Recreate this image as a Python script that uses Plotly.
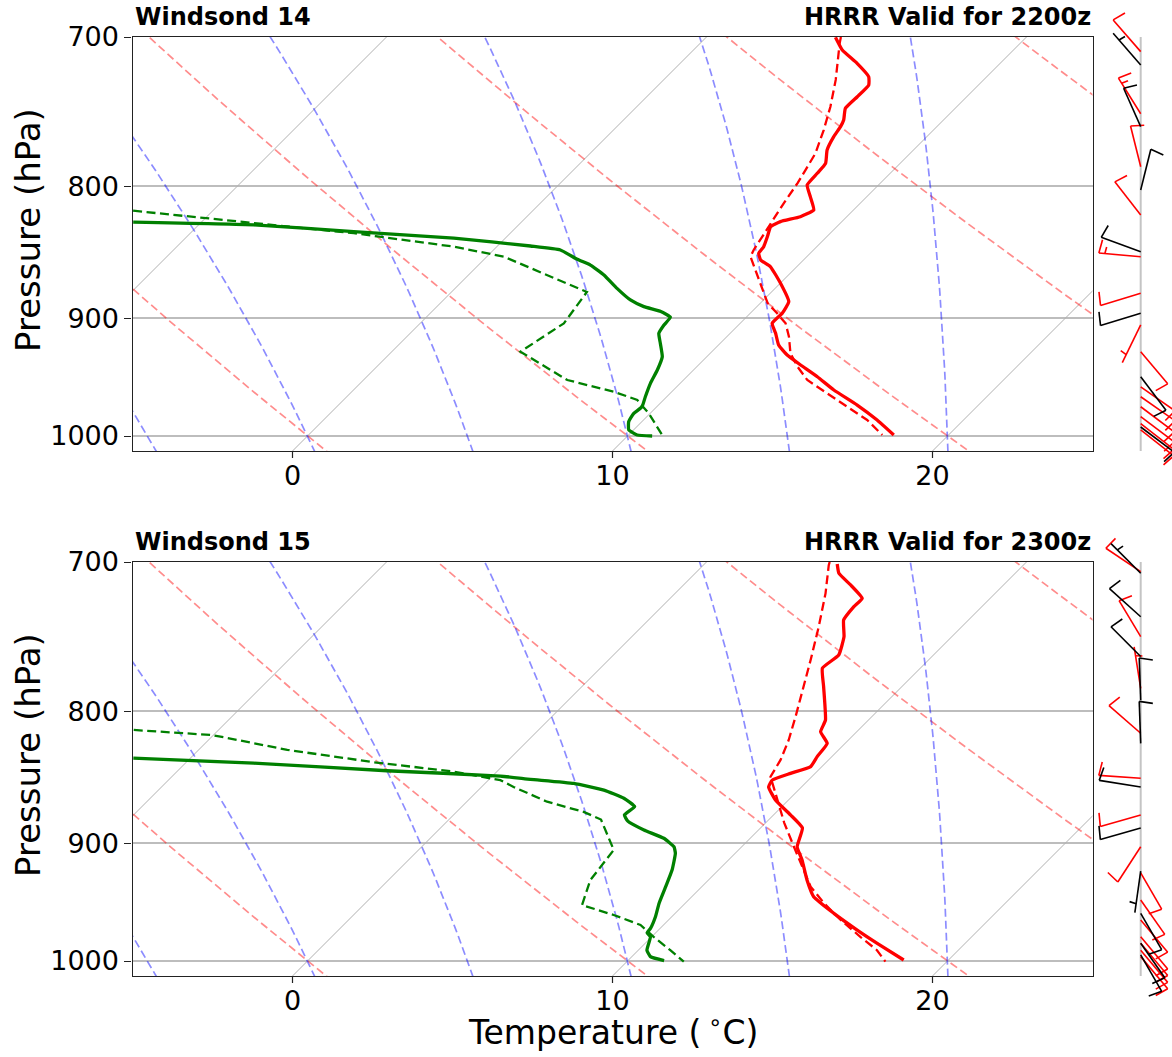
import numpy as np
import plotly.graph_objects as go

# ---------------- DATA ----------------
# Panel 1: Windsond 14 / HRRR valid 2200z
ws14_t_p = [700.2, 708.2, 716.7, 725.3, 730.7, 738.4, 746.1, 753.9, 758.4, 765.2, 774.4, 783.7, 790.7,
            799.0, 807.5, 817.1, 822.0, 825.6, 829.3, 836.7, 844.3, 849.3, 854.4, 859.6, 872.4, 886.8,
            896.1, 904.2, 912.3, 921.9, 930.2, 938.5, 948.4, 959.7, 972.7, 985.8, 999.1]
ws14_t = [4.04, 4.65, 5.53, 6.31, 6.57, 6.58, 6.57, 6.88, 6.99, 7.09, 7.30, 7.67, 7.72,
          7.77, 8.24, 8.76, 8.55, 8.08, 7.93, 8.14, 8.34, 8.39, 8.66, 9.18, 10.01, 10.84,
          11.0, 11.0, 11.42, 11.88, 12.46, 13.19, 14.08, 15.01, 16.21, 17.30, 18.29]
ws14_td_p = [826.0, 828.0, 833.0, 837.9, 843.8, 846.8, 853.9, 858.3, 865.9, 876.4, 885.5, 890.8, 894.7,
             899.3, 905.5, 912.3, 920.5, 931.6, 942.7, 954.0, 965.5, 974.2, 980.0, 987.3, 994.6, 999.1, 1000.0]
ws14_td = [-12.13, -8.27, -4.94, -1.61, 1.03, 2.09, 2.91, 3.5, 4.23, 5.06, 5.84, 6.47, 7.15,
           7.63, 7.67, 7.77, 8.13, 8.61, 8.87, 9.07, 9.33, 9.54, 9.49, 9.59, 9.85, 10.27, 10.77]
hrrr22_t_p = [700.0, 704.0, 727.4, 745.0, 760.7, 776.7, 788.4, 797.5, 812.2, 826.8, 836.7, 846.8, 851.9,
              862.1, 877.6, 887.9, 896.1, 904.2, 915.0, 928.8, 939.8, 951.2, 962.6, 974.2, 985.8, 999.1]
hrrr22_t = [4.2, 4.36, 5.38, 6.05, 6.57, 7.04, 7.25, 7.41, 7.61, 7.82, 7.98, 8.13, 8.24,
            8.81, 9.65, 10.22, 10.84, 11.42, 11.94, 12.51, 13.14, 13.87, 14.91, 15.95, 16.99, 17.93]
hrrr22_td_p = [817.6, 826.8, 834.2, 844.3, 851.9, 879.2, 904.2, 927.4, 951.2, 961.2, 968.3, 980.0, 999.1]
hrrr22_td = [-12.49, -8.33, -4.89, -1.34, 0.53, 4.23, 4.49, 4.02, 6.37, 8.19, 9.18, 9.96, 11.05]

# Panel 2: Windsond 15 / HRRR valid 2300z
ws15_t_p = [701.3, 707.1, 714.5, 723.1, 728.5, 737.3, 748.3, 760.7, 769.7, 782.6, 806.3, 814.7, 823.2,
            833.0, 840.5, 845.6, 850.7, 855.9, 865.9, 877.6, 887.9, 902.9, 913.7, 930.2, 944.2, 958.3,
            972.7, 984.3, 999.1]
ws15_t = [4.15, 4.49, 5.22, 6.0, 6.0, 6.10, 6.63, 7.04, 6.94, 7.56, 8.66, 8.87, 9.44,
          9.54, 9.65, 9.23, 8.87, 8.97, 9.59, 10.53, 11.31, 11.73, 12.30, 13.08, 13.81, 14.96,
          16.21, 17.25, 18.60]
ws15_td_p = [834.2, 837.9, 843.6, 847.6, 850.1, 853.2, 858.3, 864.6, 871.1, 877.6, 882.5, 889.5, 896.1,
             902.9, 908.2, 921.9, 935.7, 949.6, 961.2, 971.3, 975.1, 978.6, 990.4, 996.1, 999.6]
ws15_td = [-11.78, -7.86, -3.46, 0.25, 1.29, 2.77, 3.92, 4.8, 5.40, 5.34, 5.64, 6.42, 7.30,
           7.88, 8.13, 8.55, 8.87, 9.18, 9.49, 9.70, 9.73, 9.96, 10.27, 10.58, 11.13]
hrrr23_t_p = [700.0, 702.0, 719.9, 741.7, 763.9, 787.2, 803.9, 820.7, 835.5, 848.1, 865.9, 883.8, 902.9,
              919.2, 935.7, 949.6, 964.0, 978.6, 990.4, 1000.6]
hrrr23_t = [3.85, 3.92, 4.70, 5.53, 6.31, 7.09, 7.62, 8.13, 8.5, 8.71, 9.65, 10.58, 11.63,
            12.51, 13.40, 14.33, 15.38, 16.52, 17.46, 18.08]
hrrr23_td_p = [813.4, 817.1, 828.0, 837.2, 844.3, 850.7, 855.9, 867.3, 875.2, 881.2, 905.5, 919.2, 930.2,
               951.2, 959.7, 968.3, 978.6, 990.4, 1000.6]
hrrr23_td = [-12.65, -10.04, -7.23, -4.14, -1.34, 0.375, 1.0, 2.51, 3.97, 4.75, 6.10, 6.21, 6.31,
             6.83, 8.13, 9.28, 10.06, 11.0, 11.78]

# Wind barbs (pressure hPa, direction deg from, speed kt)
ws14_barb_p = [709.2, 749.7, 786.1, 820.7, 851.9, 880.2, 905.5, 927.4, 957.0, 965.5, 974.2, 982.9, 989.0, 994.6]
ws14_barb_dir = [319, 328, 346, 322, 275, 253, 206, 140, 125, 125, 127, 127, 128, 128]
ws14_barb_spd = [10, 15, 10, 10, 15, 10, 5, 10, 10, 10, 10, 10, 10, 10]
hrrr22_barb_p = [717.7, 758.4, 802.6, 848.1, 896.1, 948.4, 992.0]
hrrr22_barb_dir = [319, 336, 14, 290, 253, 143, 127]
hrrr22_barb_spd = [5, 10, 10, 10, 10, 10, 10]

ws15_barb_p = [706.1, 748.3, 783.7, 815.8, 849.3, 877.6, 902.9, 924.2, 946.9, 964.0, 978.6, 984.3, 990.4, 996.1]
ws15_barb_dir = [304, 329, 351, 311, 274, 254, 213, 150, 145, 140, 140, 140, 140, 140]
ws15_barb_spd = [10, 10, 5, 10, 10, 10, 10, 10, 10, 10, 10, 10, 10, 10]
hrrr23_barb_p = [707.1, 735.1, 761.7, 791.9, 823.2, 855.9, 887.9, 922.8, 958.3, 984.3, 994.6]
hrrr23_barb_dir = [315, 312, 315, 358, 358, 279, 254, 188, 150, 145, 150]
hrrr23_barb_spd = [5, 10, 10, 10, 10, 10, 10, 5, 10, 10, 10]

titles_left = ["Windsond 14", "Windsond 15"]
titles_right = ["HRRR Valid for 2200z", "HRRR Valid for 2300z"]
x_ticks = [0, 10, 20]
y_ticks = [700, 800, 900, 1000]

# ---------------- LAYOUT GEOMETRY ----------------
W_FIG, H_FIG = 1172, 1057
P_TOP, P_BOT = 700.0, 1013.5
T_MIN, T_MAX = -5.0, 25.0
X0, X1 = 132.5, 1092.5
PANELS = [(37.0, 451.0), (562.0, 976.0)]
PH = PANELS[0][1] - PANELS[0][0]
PX_PER_DEG = (X1 - X0) / (T_MAX - T_MIN)
SKEW = PH / PX_PER_DEG                     # 45 degree skew in display space
LOGSPAN = np.log10(P_BOT) - np.log10(P_TOP)
PPD = PH / LOGSPAN                          # pixels per decade of pressure


def yfrac(p):
    p = np.asarray(p, dtype=float)
    return (np.log10(P_BOT) - np.log10(p)) / LOGSPAN


def skew_x(t, p):
    return np.asarray(t, dtype=float) + SKEW * yfrac(p)


def moist_adiabat(t0c, p_levels):
    Rd, Cp, Lv, eps = 287.04749, 1004.6662, 2.50084e6, 0.622

    def dTdp(p, T):
        tc = T - 273.15
        es = 6.112 * np.exp(17.67 * tc / (tc + 243.5))
        rs = eps * es / (p - es)
        return (Rd * T + Lv * rs) / (p * (Cp + Lv * Lv * rs * eps / (Rd * T * T)))

    out = []
    T = t0c + 273.15
    p = 1000.0
    for pn in p_levels:
        n = max(1, int(abs(pn - p) / 2.0))
        h = (pn - p) / n
        for _ in range(n):
            k1 = dTdp(p, T)
            k2 = dTdp(p + h / 2, T + h / 2 * k1)
            k3 = dTdp(p + h / 2, T + h / 2 * k2)
            k4 = dTdp(p + h, T + h * k3)
            T += h / 6 * (k1 + 2 * k2 + 2 * k3 + k4)
            p += h
        out.append(T - 273.15)
    return np.array(out)


fig = go.Figure()
FONT = "DejaVu Sans"

p_curve = np.geomspace(1025, 690, 60)
p_up = np.geomspace(1000, 690, 50)
p_dn = np.array([1000.0, 1010.0, 1025.0])

for i, (ytop, ybot) in enumerate(PANELS):
    xa = "x" if i == 0 else "x2"
    ya = "y" if i == 0 else "y2"
    # isotherms
    for t in range(-40, 40, 10):
        pp = np.array([1025.0, 690.0])
        fig.add_trace(go.Scatter(x=skew_x([t, t], pp), y=pp, mode="lines", xaxis=xa, yaxis=ya,
                                 line=dict(color="#b0b0b0", width=1), hoverinfo="skip", showlegend=False))
    # dry adiabats
    for th in range(-30, 90, 10):
        tt = (th + 273.15) * (p_curve / 1000.0) ** 0.2857 - 273.15
        fig.add_trace(go.Scatter(x=skew_x(tt, p_curve), y=p_curve, mode="lines", xaxis=xa, yaxis=ya,
                                 line=dict(color="rgba(255,0,0,0.45)", width=1.7, dash="8px,4px"),
                                 hoverinfo="skip", showlegend=False))
    # moist adiabats
    for t0 in range(-10, 40, 5):
        tu = moist_adiabat(t0, p_up)
        td = moist_adiabat(t0, p_dn)
        pp = np.concatenate([p_dn[::-1], p_up[1:]])
        tt = np.concatenate([td[::-1], tu[1:]])
        fig.add_trace(go.Scatter(x=skew_x(tt, pp), y=pp, mode="lines", xaxis=xa, yaxis=ya,
                                 line=dict(color="rgba(0,0,255,0.45)", width=1.7, dash="8px,4px"),
                                 hoverinfo="skip", showlegend=False))

profiles = [
    (ws14_t_p, ws14_t, hrrr22_t_p, hrrr22_t, ws14_td_p, ws14_td, hrrr22_td_p, hrrr22_td),
    (ws15_t_p, ws15_t, hrrr23_t_p, hrrr23_t, ws15_td_p, ws15_td, hrrr23_td_p, hrrr23_td),
]
for i, (tp, t, htp, ht, dp, d, hdp, hd) in enumerate(profiles):
    xa = "x" if i == 0 else "x2"
    ya = "y" if i == 0 else "y2"
    fig.add_trace(go.Scatter(x=skew_x(ht, htp), y=htp, mode="lines", xaxis=xa, yaxis=ya,
                             line=dict(color="red", width=2.3, dash="9px,4.5px"), showlegend=False))
    fig.add_trace(go.Scatter(x=skew_x(hd, hdp), y=hdp, mode="lines", xaxis=xa, yaxis=ya,
                             line=dict(color="green", width=2.3, dash="9px,4.5px"), showlegend=False))
    fig.add_trace(go.Scatter(x=skew_x(t, tp), y=tp, mode="lines", xaxis=xa, yaxis=ya,
                             line=dict(color="red", width=3.3, shape="spline", smoothing=0.4),
                             showlegend=False))
    fig.add_trace(go.Scatter(x=skew_x(d, dp), y=dp, mode="lines", xaxis=xa, yaxis=ya,
                             line=dict(color="green", width=3.3, shape="spline", smoothing=0.4),
                             showlegend=False))


# ---------------- wind barbs ----------------
def barb_lines(plist, dlist, slist, L=42.0, fh=13.5, back=2.5, sp=6.0):
    xs, ys = [], []
    for p0, d, spd in zip(plist, dlist, slist):
        r = np.radians(d)
        sx, sy = np.sin(r), np.cos(r)
        nx, ny = sy, -sx

        def pt(a, b):
            x = a * sx + b * nx
            up = a * sy + b * ny
            return x, p0 * 10 ** (-up / PPD)

        segs = [[pt(0, 0), pt(L, 0)]]
        v = int(round(spd / 5.0) * 5)
        n10, rem = divmod(v, 10)
        off = L
        for _ in range(n10):
            segs.append([pt(off, 0), pt(off - back, fh)])
            off -= sp
        if rem >= 5:
            if off == L:
                off -= 1.5 * sp
            segs.append([pt(off, 0), pt(off - back / 2, fh / 2)])
        for s in segs:
            for (x, y) in s:
                xs.append(x)
                ys.append(y)
            xs.append(None)
            ys.append(None)
    return xs, ys


BX0, BX1 = 1085.0, 1172.0
BCX = 1140.7
barbsets = [
    (ws14_barb_p, ws14_barb_dir, ws14_barb_spd, hrrr22_barb_p, hrrr22_barb_dir, hrrr22_barb_spd),
    (ws15_barb_p, ws15_barb_dir, ws15_barb_spd, hrrr23_barb_p, hrrr23_barb_dir, hrrr23_barb_spd),
]
for i, (wp, wd, wsp, hp, hdr, hs) in enumerate(barbsets):
    xa = "x3" if i == 0 else "x4"
    ya = "y3" if i == 0 else "y4"
    fig.add_trace(go.Scatter(x=[0, 0], y=[P_TOP, P_BOT], mode="lines", xaxis=xa, yaxis=ya,
                             line=dict(color="#c4c4c4", width=2), hoverinfo="skip", showlegend=False))
    bx, by = barb_lines(wp, wd, wsp)
    fig.add_trace(go.Scatter(x=bx, y=by, mode="lines", xaxis=xa, yaxis=ya, connectgaps=False,
                             line=dict(color="red", width=1.6), hoverinfo="skip", showlegend=False))
    bx, by = barb_lines(hp, hdr, hs)
    fig.add_trace(go.Scatter(x=bx, y=by, mode="lines", xaxis=xa, yaxis=ya, connectgaps=False,
                             line=dict(color="black", width=1.6), hoverinfo="skip", showlegend=False))


def fy(px):
    return 1.0 - px / H_FIG


axis_common = dict(showline=True, linecolor="#222", linewidth=1.3, mirror=True, ticks="outside",
                   ticklen=7, tickwidth=1.2, tickcolor="#222", zeroline=False, automargin=False,
                   tickfont=dict(family=FONT, size=27, color="black"))
layout = dict(width=W_FIG, height=H_FIG, margin=dict(l=0, r=0, t=0, b=0, pad=0, autoexpand=False),
              paper_bgcolor="white", plot_bgcolor="rgba(0,0,0,0)", showlegend=False,
              font=dict(family=FONT, color="black"))
annotations = []
shapes = []
ylabel_centers = [230, 755]
for i, (ytop, ybot) in enumerate(PANELS):
    sfx = "" if i == 0 else "2"
    layout["xaxis" + sfx] = dict(axis_common, domain=[X0 / W_FIG, X1 / W_FIG], range=[T_MIN, T_MAX],
                                 tickvals=x_ticks, ticktext=[str(v) for v in x_ticks], showgrid=False,
                                 ticks="", ticklen=0, anchor="y" + sfx)
    layout["yaxis" + sfx] = dict(axis_common, domain=[fy(ybot), fy(ytop)], type="log",
                                 range=[np.log10(P_BOT), np.log10(P_TOP)], tickvals=y_ticks,
                                 ticktext=[str(v) for v in y_ticks], showgrid=True,
                                 gridcolor="#bdbdbd", gridwidth=1.6, anchor="x" + sfx)
    # x tick marks (outside, below the bottom spine)
    for v in x_ticks:
        shapes.append(dict(type="line", xref="x" + sfx, yref="paper", x0=v, x1=v,
                           y0=fy(ybot), y1=fy(ybot + 7), line=dict(color="#222", width=1.2)))
    # barb axes
    bs = "3" if i == 0 else "4"
    ext_top, ext_bot = ytop - 32, ybot + 40
    layout["xaxis" + bs] = dict(domain=[BX0 / W_FIG, BX1 / W_FIG], range=[BX0 - BCX, BX1 - BCX],
                                visible=False, automargin=False, anchor="y" + bs)
    layout["yaxis" + bs] = dict(domain=[fy(ext_bot), fy(ext_top)], type="log",
                                range=[np.log10(P_BOT) + (ext_bot - ybot) / PPD,
                                       np.log10(P_TOP) - (ytop - ext_top) / PPD],
                                visible=False, automargin=False, anchor="x" + bs)
    # titles
    annotations.append(dict(text="<b>%s</b>" % titles_left[i], x=X0 / W_FIG, y=fy(ytop - 20),
                             xref="paper", yref="paper", xanchor="left", yanchor="middle",
                             showarrow=False, font=dict(family=FONT, size=24, color="black")))
    annotations.append(dict(text="<b>%s</b>" % titles_right[i], x=X1 / W_FIG, y=fy(ytop - 20),
                             xref="paper", yref="paper", xanchor="right", yanchor="middle",
                             showarrow=False, font=dict(family=FONT, size=24, color="black")))
    annotations.append(dict(text="Pressure (hPa)", x=28 / W_FIG, y=fy(ylabel_centers[i]),
                             xref="paper", yref="paper", xanchor="center", yanchor="middle",
                             textangle=-90, showarrow=False, font=dict(family=FONT, size=34, color="black")))
annotations.append(dict(text="Temperature (\u2009<sup>∘</sup>C)", x=(X0 + X1) / 2 / W_FIG, y=fy(1030),
                        xref="paper", yref="paper", xanchor="center", yanchor="middle",
                        showarrow=False, font=dict(family=FONT, size=33, color="black")))
layout["annotations"] = annotations
layout["shapes"] = shapes
fig.update_layout(**layout)
fig.write_html("out.html")
